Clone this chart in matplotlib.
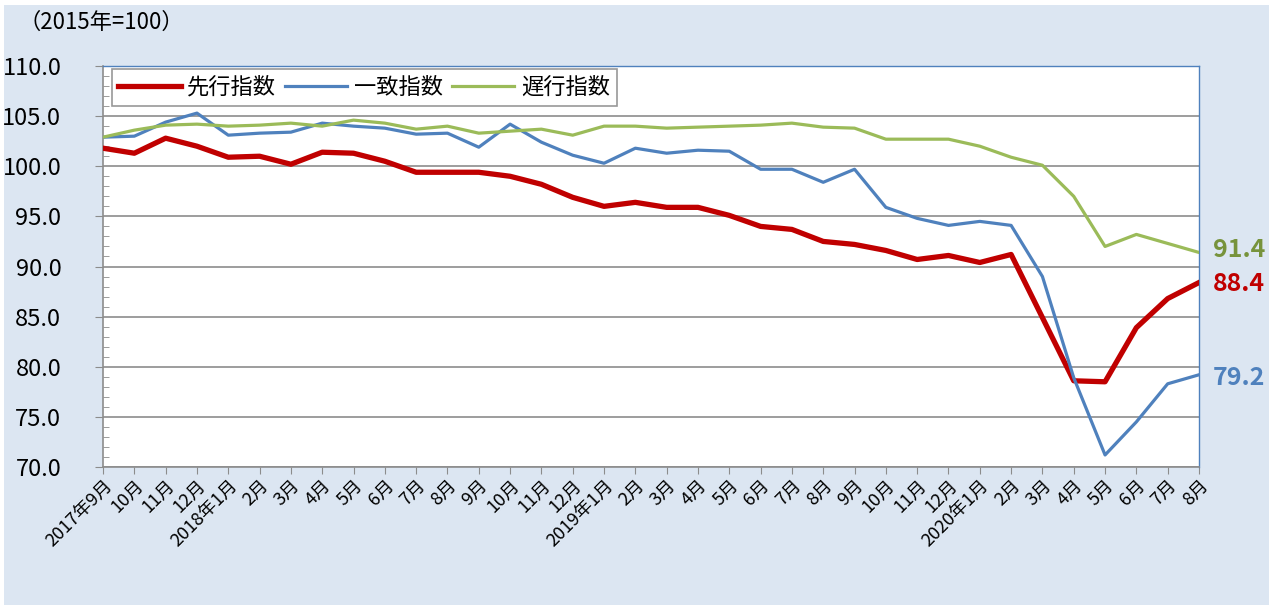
import matplotlib

matplotlib.use("Agg")
import matplotlib.pyplot as plt
from matplotlib.patches import Rectangle
from matplotlib.ticker import MultipleLocator

plt.rcParams["font.family"] = ["Noto Sans CJK JP", "DejaVu Sans"]

# 月次ラベル (2017年9月 - 2020年8月)
months = [
    "2017年9月", "10月", "11月", "12月",
    "2018年1月", "2月", "3月", "4月", "5月", "6月", "7月", "8月", "9月", "10月", "11月", "12月",
    "2019年1月", "2月", "3月", "4月", "5月", "6月", "7月", "8月", "9月", "10月", "11月", "12月",
    "2020年1月", "2月", "3月", "4月", "5月", "6月", "7月", "8月",
]

leading = [
    101.8, 101.3, 102.8, 102.0,
    100.9, 101.0, 100.2, 101.4, 101.3, 100.5, 99.4, 99.4, 99.4, 99.0, 98.2, 96.9,
    96.0, 96.4, 95.9, 95.9, 95.1, 94.0, 93.7, 92.5, 92.2, 91.6, 90.7, 91.1,
    90.4, 91.2, 84.9, 78.6, 78.5, 83.9, 86.8, 88.4,
]
coincident = [
    102.9, 103.0, 104.4, 105.3,
    103.1, 103.3, 103.4, 104.3, 104.0, 103.8, 103.2, 103.3, 101.9, 104.2, 102.4, 101.1,
    100.3, 101.8, 101.3, 101.6, 101.5, 99.7, 99.7, 98.4, 99.7, 95.9, 94.8, 94.1,
    94.5, 94.1, 89.0, 78.9, 71.2, 74.5, 78.3, 79.2,
]
lagging = [
    102.9, 103.6, 104.1, 104.2,
    104.0, 104.1, 104.3, 104.0, 104.6, 104.3, 103.7, 104.0, 103.3, 103.5, 103.7, 103.1,
    104.0, 104.0, 103.8, 103.9, 104.0, 104.1, 104.3, 103.9, 103.8, 102.7, 102.7, 102.7,
    102.0, 100.9, 100.1, 97.0, 92.0, 93.2, 92.3, 91.4,
]

RED = "#C00000"
BLUE = "#4F81BD"
GREEN = "#9BBB59"
BG = "#DCE6F2"

fig = plt.figure(figsize=(12.73, 6.05), dpi=100, facecolor="white")
fig.patches.append(
    Rectangle((4 / 1273, 0), 1265 / 1273, 600 / 605, transform=fig.transFigure,
              facecolor=BG, edgecolor="none", zorder=-10)
)
ax = fig.add_axes([103 / 1273, 1 - 467 / 605, 1096 / 1273, 401 / 605])
ax.set_zorder(5)
ax.set_facecolor("white")

x = list(range(len(months)))
ax.plot(x, leading, color=RED, lw=3.8, label="先行指数", zorder=3)
ax.plot(x, coincident, color=BLUE, lw=2.3, label="一致指数", zorder=4)
ax.plot(x, lagging, color=GREEN, lw=2.3, label="遅行指数", zorder=5)

ax.set_xlim(0, len(months) - 1)
ax.set_ylim(70, 110)
ax.yaxis.set_major_locator(MultipleLocator(5))
ax.yaxis.set_minor_locator(MultipleLocator(1))
ax.set_yticks(ax.get_yticks())
ax.set_yticklabels([f"{v:.1f}" for v in ax.get_yticks()])
ax.set_ylim(70, 110)
ax.grid(axis="y", which="major", color="#8C8C8C", lw=1.2)
ax.set_axisbelow(True)

ax.set_xticks(x)
ax.set_xticklabels(months, rotation=45, ha="right", va="top", rotation_mode="anchor", fontsize=13)
ax.tick_params(axis="x", length=5, color="#8C8C8C", pad=2)
ax.tick_params(axis="y", which="major", length=6, color="#8C8C8C", labelsize=17, pad=24)
ax.tick_params(axis="y", which="minor", length=4, color="#8C8C8C", direction="in")

for side in ("left", "bottom"):
    ax.spines[side].set_color("#8C8C8C")
    ax.spines[side].set_linewidth(1.2)
for side in ("top", "right"):
    ax.spines[side].set_color(BLUE)
    ax.spines[side].set_linewidth(1.0)

leg = ax.legend(loc="upper left", ncol=3, bbox_to_anchor=(0.005, 1.0), fontsize=16,
                frameon=True, fancybox=False, edgecolor="#7F7F7F", handlelength=2.8,
                handletextpad=0.3, columnspacing=0.4, borderpad=0.3, borderaxespad=0.15)
leg.get_frame().set_linewidth(1.2)

# 最新値ラベル
ax.annotate(f"{lagging[-1]:.1f}", (x[-1], lagging[-1]), xytext=(10, 2), textcoords="offset points",
            color="#77933C", fontsize=18, fontweight="bold", va="center", annotation_clip=False)
ax.annotate(f"{leading[-1]:.1f}", (x[-1], leading[-1]), xytext=(10, -1), textcoords="offset points",
            color=RED, fontsize=18, fontweight="bold", va="center", annotation_clip=False)
ax.annotate(f"{coincident[-1]:.1f}", (x[-1], coincident[-1]), xytext=(10, -2), textcoords="offset points",
            color=BLUE, fontsize=18, fontweight="bold", va="center", annotation_clip=False)

fig.text(18 / 1273, 1 - 22 / 605, "（2015年=100）", fontsize=16, va="center", ha="left")

fig.savefig("out.png", dpi=100, facecolor=fig.get_facecolor())
